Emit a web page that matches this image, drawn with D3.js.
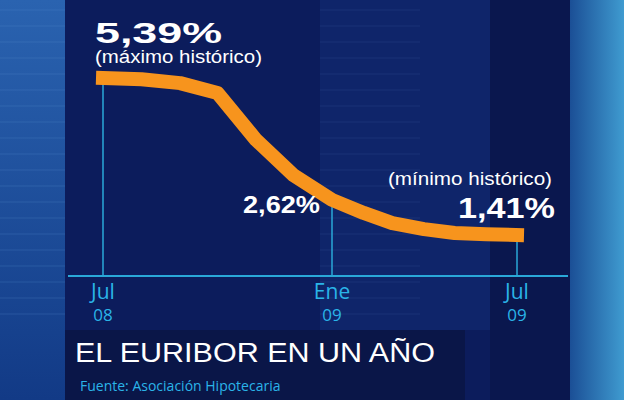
<!DOCTYPE html>
<html><head><meta charset="utf-8">
<script src="https://cdn.jsdelivr.net/npm/d3@7"></script>
<style>body{margin:0;background:#0b1a55}svg{display:block}</style>
</head><body>
<svg id="chart" width="624" height="400"></svg>
<script>
// datos (Euribor mensual)
const months = ["2008-07","2008-08","2008-09","2008-10","2008-11","2008-12","2009-01","2009-02","2009-03","2009-04","2009-05","2009-06","2009-07"];
const values = [5.39, 5.36, 5.26, 5.01, 3.82, 2.93, 2.30, 1.97, 1.71, 1.56, 1.46, 1.43, 1.41];
const tickMonths = ["2008-07","2009-01","2009-07"];
const tickTop = ["Jul","Ene","Jul"];
const tickBottom = ["08","09","09"];

const svg = d3.select("#chart");
const parse = d3.timeParse("%Y-%m");

// fondo
const defs = svg.append("defs");
const gr = defs.append("linearGradient").attr("id","right").attr("x1",0).attr("x2",1);
gr.append("stop").attr("offset",0).attr("stop-color","#1b4f96");
gr.append("stop").attr("offset",1).attr("stop-color","#3f9bd0");
const gl = defs.append("linearGradient").attr("id","left").attr("x1",0).attr("x2",0).attr("y1",0).attr("y2",1);
gl.append("stop").attr("offset",0).attr("stop-color","#2a63b0");
gl.append("stop").attr("offset",1).attr("stop-color","#123a86");
svg.append("rect").attr("width",624).attr("height",400).attr("fill","url(#left)");
svg.append("rect").attr("x",65).attr("width",505).attr("height",400).attr("fill","#0c1c5c");
svg.append("rect").attr("x",320).attr("width",170).attr("height",330).attr("fill","#10286e").attr("opacity",0.8);
svg.append("rect").attr("x",490).attr("width",80).attr("height",400).attr("fill","#0a174e");
svg.append("rect").attr("x",570).attr("width",54).attr("height",400).attr("fill","url(#right)");
svg.append("rect").attr("x",65).attr("y",330).attr("width",400).attr("height",70).attr("fill","#0a1648");
// franjas horizontales
for (let y = 10; y < 330; y += 16) {
  svg.append("line").attr("x1",0).attr("x2",65).attr("y1",y).attr("y2",y)
    .attr("stroke","#5d8fd0").attr("stroke-opacity",0.25);
  svg.append("line").attr("x1",320).attr("x2",420).attr("y1",y).attr("y2",y)
    .attr("stroke","#3a5aa0").attr("stroke-opacity",0.25);
}

const x = d3.scaleTime()
  .domain([parse("2008-07"), parse("2009-01"), parse("2009-07")])
  .range([103, 332, 517]);
const y = d3.scaleLinear().domain([1.41, 5.39]).range([235, 78]);
const baseY = 276;
const data = months.map((m, i) => ({d: parse(m), v: values[i]}));

// eje
svg.append("line").attr("x1",68).attr("x2",568).attr("y1",baseY).attr("y2",baseY)
  .attr("stroke","#2aa8d8").attr("stroke-width",2);
tickMonths.forEach((m, i) => {
  const d = parse(m);
  const v = values[months.indexOf(m)];
  svg.append("line").attr("x1",x(d)).attr("x2",x(d)).attr("y1",baseY).attr("y2",y(v))
    .attr("stroke","#2aa8d8").attr("stroke-width",1.5);
  svg.append("text").attr("x",x(d)).attr("y",299).attr("text-anchor","middle")
    .attr("font-family","Open Sans").attr("font-size",21).attr("fill","#2ab4e8").text(tickTop[i]);
  svg.append("text").attr("x",x(d)).attr("y",321).attr("text-anchor","middle")
    .attr("font-family","Open Sans").attr("font-size",17).attr("fill","#2ab4e8").text(tickBottom[i]);
});

// línea
svg.append("path").datum(data)
  .attr("d", d3.line().x(d => x(d.d)).y(d => y(d.v)))
  .attr("fill","none").attr("stroke","#f7941d").attr("stroke-width",14)
  .attr("stroke-linecap","square").attr("stroke-linejoin","round");

// etiquetas
const t = (tx, ty, s, size, bold, len) => {
  const el = svg.append("text").attr("x",tx).attr("y",ty).attr("fill","#fff")
    .attr("font-family","Liberation Sans, Arial, sans-serif").attr("font-size",size)
    .attr("font-weight",bold ? "bold" : "normal").text(s);
  if (len) el.attr("textLength",len).attr("lengthAdjust","spacingAndGlyphs");
  return el;
};
t(95, 43, "5,39%", 30, true, 127);
t(95, 63, "(máximo histórico)", 18, false, 167);
t(388, 185, "(mínimo histórico)", 18, false, 164);
t(458, 218, "1,41%", 30, true, 97);
t(243, 213, "2,62%", 23, true, 77);

svg.append("text").attr("x",75).attr("y",362).attr("fill","#fff")
  .attr("font-family","Liberation Sans, Arial, sans-serif").attr("font-size",27)
  .attr("textLength",360).attr("lengthAdjust","spacingAndGlyphs").text("EL EURIBOR EN UN AÑO");
svg.append("text").attr("x",80).attr("y",391).attr("fill","#2ab4e8")
  .attr("font-family","Open Sans").attr("font-size",14).text("Fuente: Asociación Hipotecaria");
</script>
</body></html>
